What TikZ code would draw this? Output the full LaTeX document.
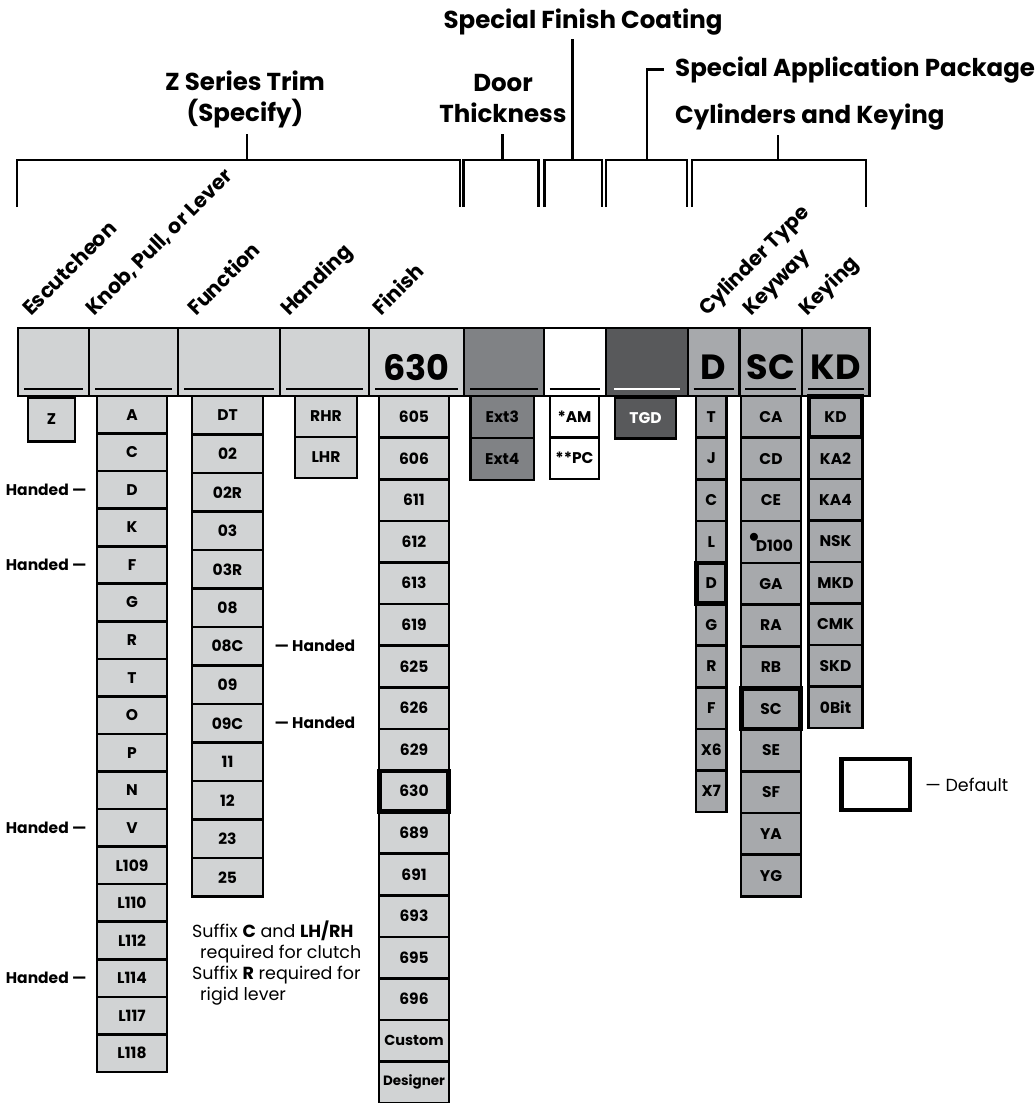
\documentclass[tikz,border=0pt]{standalone}
\usepackage{fontspec}
\setmainfont{Poppins}
\usetikzlibrary{positioning}

\begin{document}
\begin{tikzpicture}[
  x=1pt,y=-1pt,
  font=\fontsize{15.5}{18}\selectfont\bfseries,
  brk/.style={line width=2.4pt},
  title/.style={font=\fontsize{24.5}{31}\selectfont\bfseries,align=center,inner sep=0pt},
  slant/.style={font=\fontsize{20.5}{22}\selectfont\bfseries,rotate=45,anchor=base west,inner sep=0pt},
  hcell/.style={draw=black,line width=2.2pt,fill=#1,minimum height=68pt,inner sep=0pt,anchor=north west},
  big/.style={font=\fontsize{35}{40}\selectfont\bfseries,inner sep=0pt},
  uline/.style={line width=1.2pt,draw=#1},
  opt/.style={draw=black,line width=2.6pt,fill=#1,inner sep=0pt},
  dflt/.style={draw=black,line width=4.5pt},
  side/.style={inner sep=0pt},
  note/.style={font=\fontsize{17.5}{21}\selectfont,align=left,inner sep=0pt}]

  \definecolor{lgray}{HTML}{D1D3D4}
  \definecolor{mgray}{HTML}{808285}
  \definecolor{dgray}{HTML}{58595B}
  \definecolor{cgray}{HTML}{A7A9AC}

  \useasboundingbox (0,0) rectangle (1036,1103);

  % titles
  \node[title,anchor=south] (t-trim) at (245,128) {Z Series Trim\\(Specify)};
  \node[title,anchor=south] (t-door) at (503,122.5) {Door\\Thickness};
  \node[title,anchor=base] (t-coat) at (583,28.3) {Special Finish Coating};
  \node[title,anchor=base west] (t-pkg) at (675,76) {Special Application Package};
  \node[title,anchor=base west] (t-cyl) at (675,123.3) {Cylinders and Keying};

  % brackets
  \draw[brk] (17,207) |- (460,160) -- (460,207);
  \draw[brk] (463.5,207) |- (538.5,160) -- (538.5,207);
  \draw[brk] (544.5,207) |- (601.7,160) -- (601.7,207);
  \draw[brk] (606,207) |- (686.7,160) -- (686.7,207);
  \draw[brk] (691.7,207) |- (865.7,160) -- (865.7,207);
  \coordinate (b-trim) at (247,160);
  \coordinate (b-door) at (502.5,160);
  \coordinate (b-coat) at (572.3,160);
  \coordinate (b-pkg) at (646.7,160);
  \coordinate (b-cyl) at (777.7,160);
  \draw[brk,shorten >=6pt] (b-trim) -- (b-trim |- t-trim.south);
  \draw[brk,shorten >=11.5pt] (b-door) -- (b-door |- t-door.south);
  \draw[brk,shorten >=3.5pt] (b-coat) -- (b-coat |- t-coat.south);
  \draw[brk] (b-pkg) |- ([xshift=-11pt]t-pkg.west);
  \draw[brk,shorten >=4.7pt] (b-cyl) -- (b-cyl |- t-cyl.south);

  % slanted column labels
  \foreach \t/\x [count=\i] in {Escutcheon/31,{Knob, Pull, or Lever}/94,Function/196,
      Handing/289,Finish/381,{Cylinder Type}/707,Keyway/751,Keying/807.5}
    \node[slant] (s-\i) at (\x,317) {\t};

  % header bar
  \foreach \nm/\xa/\xb/\col in {esc/17/88/lgray,knob/88/177/lgray,func/177/279/lgray,
      hand/279/368/lgray,fin/368/463/lgray,ext/463/542.7/mgray,coat/542.7/605/white,
      pkg/605/686.7/dgray,cyl/686.7/738.3/cgray,kwy/738.3/801/cgray,kng/801/868.3/cgray}
    \node[hcell=\col,minimum width={(\xb-\xa)*1pt}] (h-\nm) at (\xa,327) {};
  \foreach \nm in {esc,knob,func,hand,fin,ext,coat,cyl,kwy,kng}
    \draw[uline=black] ([xshift=7pt,yshift=8.3pt]h-\nm.south west) -- ([xshift=-7pt,yshift=8.3pt]h-\nm.south east);
  \draw[uline=white] ([xshift=9pt,yshift=8.3pt]h-pkg.south west) -- ([xshift=-9pt,yshift=8.3pt]h-pkg.south east);
  \node[big] (v-fin) at ([yshift=-5pt]h-fin.center) {630};
  \node[big] (v-cyl) at ([yshift=-5pt]h-cyl.center) {D};
  \node[big] (v-kwy) at ([yshift=-5pt]h-kwy.center) {SC};
  \node[big] (v-kng) at ([yshift=-5pt]h-kng.center) {KD};

  % option columns
  \node[opt=lgray,minimum width=47pt,minimum height=44pt,anchor=north] (esc-1) at (51.5,396) {Z};
  \foreach \t [count=\i] in {A,C,D,K,F,G,R,T,O,P,N,V,L109,L110,L112,L114,L117,L118}
    \node[opt=lgray,minimum width=70pt,minimum height=37.55pt] (knob-\i) at (132,{396+(\i-0.5)*37.55}) {\t};
  \foreach \t [count=\i] in {DT,02,02R,03,03R,08,08C,09,09C,11,12,23,25}
    \node[opt=lgray,minimum width=71pt,minimum height=38.5pt] (func-\i) at (227.5,{396+(\i-0.5)*38.5}) {\t};
  \foreach \t [count=\i] in {RHR,LHR}
    \node[opt=lgray,minimum width=62pt,minimum height=41pt] (hand-\i) at (326,{396+(\i-0.5)*41}) {\t};
  \foreach \t [count=\i] in {605,606,611,612,613,619,625,626,629,630,689,691,693,695,696,
      {\fontsize{14.5}{16}\selectfont Custom},{\fontsize{13.5}{16}\selectfont Designer}}
    \node[opt=lgray,minimum width=70pt,minimum height=41.6pt] (fin-\i) at (414,{396+(\i-0.5)*41.6}) {\t};
  \foreach \t [count=\i] in {Ext3,Ext4}
    \node[opt=mgray,minimum width=63.3pt,minimum height=42pt] (ext-\i) at (502.3,{396+(\i-0.5)*42}) {\t};
  \foreach \t [count=\i] in {*AM,**PC}
    \node[opt=white,minimum width=49pt,minimum height=41.5pt] (coat-\i) at (574.5,{396+(\i-0.5)*41.5}) {\t};
  \node[opt=dgray,text=white,minimum width=61pt,minimum height=41.3pt,anchor=north] (pkg-1) at (645.5,396) {TGD};
  \foreach \t [count=\i] in {T,J,C,L,D,G,R,F,X6,X7}
    \node[opt=cgray,minimum width=30.7pt,minimum height=41.6pt] (cyl-\i) at (711.3,{396+(\i-0.5)*41.6}) {\t};
  \foreach \t [count=\i] in {CA,CD,CE,{\raisebox{9pt}{\fontsize{22}{22}\selectfont$\bullet$}\kern-3.5pt D100},GA,RA,RB,SC,SE,SF,YA,YG}
    \node[opt=cgray,minimum width=60pt,minimum height=41.7pt] (kwy-\i) at (771,{396+(\i-0.5)*41.7}) {\t};
  \foreach \t [count=\i] in {KD,KA2,KA4,NSK,MKD,CMK,SKD,0Bit}
    \node[opt=cgray,minimum width=54.4pt,minimum height=41.5pt] (kng-\i) at (835.5,{396+(\i-0.5)*41.5}) {\t};

  % defaults
  \foreach \nm in {fin-10,cyl-5,kwy-8,kng-1}
    \draw[dflt] ([shift={(1.8,1.8)}]\nm.north west) rectangle ([shift={(-1.8,-1.8)}]\nm.south east);

  % handed notes
  \foreach \i in {3,5,12,16}
    \node[side,left=9pt of knob-\i] (hk-\i) {Handed —};
  \foreach \i in {7,9}
    \node[side,right=10pt of func-\i] (hf-\i) {— Handed};
  \node[note,anchor=north west] (suffix) at (192,921)
    {Suffix \textbf{C} and \textbf{LH/RH}\\\hspace*{8pt}required for clutch\\
     Suffix \textbf{R} required for\\\hspace*{8pt}rigid lever};

  % legend
  \node[dflt,minimum width=68.5pt,minimum height=51pt] (legend) at (875.7,784.5) {};
  \node[side,font=\fontsize{17.5}{20}\selectfont,right=13pt of legend] (legend-l) {— Default};
\end{tikzpicture}
\end{document}
